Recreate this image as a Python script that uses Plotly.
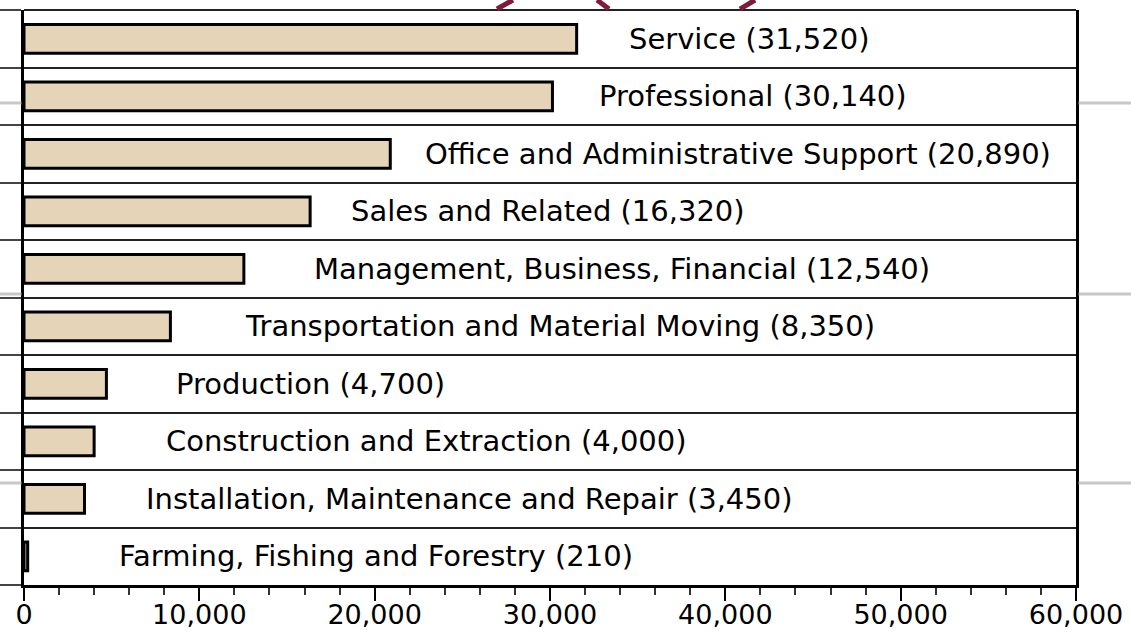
import plotly.graph_objects as go

# ---- data (top to bottom as shown) ----
occupations = [
    "Service",
    "Professional",
    "Office and Administrative Support",
    "Sales and Related",
    "Management, Business, Financial",
    "Transportation and Material Moving",
    "Production",
    "Construction and Extraction",
    "Installation, Maintenance and Repair",
    "Farming, Fishing and Forestry",
]
employment = [31520, 30140, 20890, 16320, 12540, 8350, 4700, 4000, 3450, 210]
x_tick_values = [0, 10000, 20000, 30000, 40000, 50000, 60000]

# label centre positions along the x axis (layout only)
label_x = [41400, 41550, 40700, 29900, 34100, 30550, 16350, 22950, 25400, 20050]

FONT = "DejaVu Sans"

fig = go.Figure()
fig.add_trace(go.Bar(
    x=employment,
    y=occupations,
    orientation="h",
    width=0.5,
    marker=dict(color="#e5d4b8", line=dict(color="#000000", width=3)),
    hoverinfo="x+y",
    showlegend=False,
))

for name, val, lx in zip(occupations, employment, label_x):
    fig.add_annotation(
        x=lx, y=name, xref="x", yref="y",
        text=f"{name} ({val:,})",
        showarrow=False, xanchor="center", yanchor="middle",
        font=dict(family=FONT, size=29, color="#000000"),
    )

# decorative background lines outside the plot area
shapes = []
for yp in [0.8383, 0.5061, 0.1774]:
    shapes.append(dict(type="line", xref="paper", yref="paper", x0=-0.03, x1=-0.0025,
                       y0=yp, y1=yp, line=dict(color="#c8c8c8", width=3)))
    shapes.append(dict(type="line", xref="paper", yref="paper", x0=1.0025, x1=1.06,
                       y0=yp, y1=yp, line=dict(color="#c8c8c8", width=3)))
# top border
shapes.append(dict(type="line", xref="paper", yref="paper", x0=0, x1=1, y0=1, y1=1,
                   line=dict(color="#222222", width=2)))
# maroon logo fragments above the plot
for (xa, ya, xb, yb) in [(0.4496, 1.0017, 0.4648, 1.0174),
                         (0.5447, 1.0174, 0.5561, 1.0017),
                         (0.6806, 1.0017, 0.6949, 1.0174)]:
    shapes.append(dict(type="line", xref="paper", yref="paper", x0=xa, y0=ya, x1=xb, y1=yb,
                       line=dict(color="#7b1c3c", width=5)))

fig.update_layout(
    width=1131, height=634,
    margin=dict(l=24, r=55, t=10, b=49, pad=0, autoexpand=False),
    paper_bgcolor="white", plot_bgcolor="white",
    font=dict(family=FONT, size=27, color="#000000"),
    shapes=shapes,
    bargap=0.5,
)

fig.update_xaxes(
    range=[0, 60000],
    tickvals=x_tick_values,
    tickformat=",",
    ticks="outside", ticklen=13, tickwidth=2, tickcolor="#000000",
    ticklabelstandoff=-9,
    minor=dict(dtick=2000, tick0=0, ticks="outside", ticklen=7, tickwidth=1.5,
               tickcolor="#333333", showgrid=False),
    showgrid=False, zeroline=False,
    showline=True, linewidth=3, linecolor="#000000", mirror=False,
    tickfont=dict(family=FONT, size=27, color="#000000"),
    automargin=False,
    fixedrange=True,
)

fig.update_yaxes(
    type="category",
    categoryorder="array",
    categoryarray=occupations[::-1],
    range=[-0.5, len(occupations) - 0.5],
    tickson="boundaries",
    ticks="outside", ticklen=21, tickwidth=2, tickcolor="#444444",
    showticklabels=False,
    showgrid=True, gridcolor="#222222", gridwidth=1.5,
    showline=True, linewidth=3, linecolor="#000000", mirror=True,
    zeroline=False,
    automargin=False,
    fixedrange=True,
)

fig.write_html(
    "out.html",
    config={"displayModeBar": False},
    post_script="document.body.style.margin='0px';document.body.style.overflow='hidden';",
)
